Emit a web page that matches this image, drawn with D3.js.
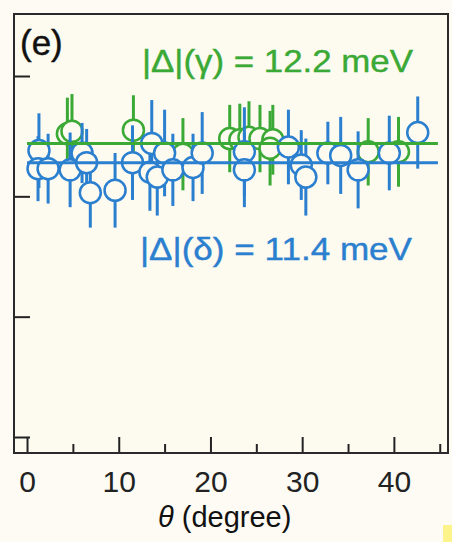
<!DOCTYPE html>
<html><head><meta charset="utf-8">
<script src="https://cdn.jsdelivr.net/npm/d3@7"></script>
<style>
html,body{margin:0;padding:0;background:#fdfbf4;}
svg{display:block;}
text{font-family:"Liberation Sans",Arial,Helvetica,sans-serif;}
</style></head>
<body><svg id="c" width="452" height="542"></svg>
<script>
// γ band (green)
const gammaTheta = [4.4, 4.9, 11.6, 17.0, 22.1, 23.2, 24.2, 25.4, 26.8, 26.5, 37.2, 40.5];
const gammaGap   = [12.6, 12.7, 12.75, 11.75, 12.4, 12.35, 12.45, 12.4, 12.35, 12.0, 11.85, 11.85];
const gammaErr   = [1.5, 1.55, 1.45, 1.5, 1.4, 1.5, 1.5, 1.4, 1.45, 1.55, 1.4, 1.45];
// δ band (blue)
const deltaTheta = [1.3, 1.2, 2.3, 4.7, 6.0, 6.5, 6.9, 9.6, 11.5, 13.6, 13.4, 14.2, 15.0, 15.9, 18.1, 19.1, 23.7, 23.7, 28.5, 29.9, 30.4, 32.8, 34.2, 36.1, 39.5, 42.6];
const deltaGap   = [11.9, 11.15, 11.15, 11.1, 11.8, 11.4, 10.15, 10.25, 11.4, 12.2, 11.0, 10.8, 11.8, 11.1, 11.2, 11.8, 11.85, 11.1, 12.05, 11.3, 10.8, 11.8, 11.7, 11.1, 11.8, 12.65];
const deltaErr   = [1.55, 1.35, 1.45, 1.55, 1.25, 1.4, 1.45, 1.55, 1.55, 1.8, 1.6, 1.6, 1.8, 1.5, 1.4, 1.7, 1.85, 1.55, 1.55, 1.45, 1.6, 1.3, 1.6, 1.6, 1.55, 1.5];
const meanGamma = 12.2, meanDelta = 11.4;
const xTicks = [0, 10, 20, 30, 40];
const xMinor = [5, 15, 25, 35, 45];
const yTicks = [0, 5, 10, 15];
const labelGamma = "|Δ|(γ) = 12.2 meV";
const labelDelta = "|Δ|(δ) = 11.4 meV";
const panelLabel = "(e)";
const xTitle = "(degree)";

const GREEN = "#3aa935", BLUE = "#2b7fcf";
const svg = d3.select("#c");
const L = 14, R = 448, T = 14, B = 453;
const x = d3.scaleLinear().domain([-1.42, 45.9]).range([L, R]);
const y = d3.scaleLinear().domain([0, 15]).range([437, 76]);

svg.append("rect").attr("x", L).attr("y", T).attr("width", R - L).attr("height", B - T)
  .attr("fill", "#fdfaf0");

function series(th, gp, er, color) {
  const g = svg.append("g");
  const d = th.map((t, i) => ({t, v: gp[i], e: er[i]}));
  g.selectAll("line").data(d).join("line")
    .attr("x1", p => x(p.t)).attr("x2", p => x(p.t))
    .attr("y1", p => y(p.v - p.e)).attr("y2", p => y(p.v + p.e))
    .attr("stroke", color).attr("stroke-width", 3);
  g.selectAll("circle").data(d).join("circle")
    .attr("cx", p => x(p.t)).attr("cy", p => y(p.v)).attr("r", 10.5)
    .attr("fill", "#fdfaf0").attr("stroke", color).attr("stroke-width", 2.5);
}
series(gammaTheta, gammaGap, gammaErr, GREEN);
series(deltaTheta, deltaGap, deltaErr, BLUE);

svg.append("line").attr("x1", x(0)).attr("x2", x(44.8)).attr("y1", y(meanGamma)).attr("y2", y(meanGamma))
  .attr("stroke", GREEN).attr("stroke-width", 3);
svg.append("line").attr("x1", x(0)).attr("x2", x(44.8)).attr("y1", y(meanDelta)).attr("y2", y(meanDelta))
  .attr("stroke", BLUE).attr("stroke-width", 3);

// axes
const xAx = svg.append("g").attr("transform", `translate(0,${B})`)
  .call(d3.axisBottom(x).tickValues(xTicks).tickSizeInner(-16).tickSizeOuter(0).tickPadding(18).tickFormat(d3.format("d")));
xAx.select(".domain").remove();
xAx.selectAll(".tick line").attr("stroke", "#222").attr("stroke-width", 2);
xAx.selectAll(".tick text").attr("font-size", 30).attr("fill", "#222")
  .attr("font-family", '"Liberation Sans",Arial,sans-serif');
const xm = svg.append("g").attr("transform", `translate(0,${B})`)
  .call(d3.axisBottom(x).tickValues(xMinor).tickSizeInner(-9).tickSizeOuter(0).tickFormat(""));
xm.select(".domain").remove();
xm.selectAll(".tick line").attr("stroke", "#222").attr("stroke-width", 2);

const yAx = svg.append("g").attr("transform", `translate(${L},0)`)
  .call(d3.axisLeft(y).tickValues(yTicks).tickSizeInner(-16).tickSizeOuter(0).tickFormat(""));
yAx.select(".domain").remove();
yAx.selectAll(".tick line").attr("stroke", "#222").attr("stroke-width", 2);

svg.append("rect").attr("x", L).attr("y", T).attr("width", R - L).attr("height", B - T)
  .attr("fill", "none").attr("stroke", "#2a2a2a").attr("stroke-width", 2);

// texts
svg.append("text").attr("x", 20).attr("y", 55).attr("font-size", 35).attr("fill", "#111")
  .attr("stroke", "#111").attr("stroke-width", 0.4).text(panelLabel);
svg.append("text").attr("x", 142).attr("y", 72).attr("font-size", 32).attr("fill", GREEN)
  .attr("stroke", GREEN).attr("stroke-width", 0.4)
  .attr("textLength", 271).attr("lengthAdjust", "spacingAndGlyphs").text(labelGamma);
svg.append("text").attr("x", 140).attr("y", 260).attr("font-size", 32).attr("fill", BLUE)
  .attr("stroke", BLUE).attr("stroke-width", 0.4)
  .attr("textLength", 272).attr("lengthAdjust", "spacingAndGlyphs").text(labelDelta);
const tt = svg.append("text").attr("x", 158).attr("y", 527).attr("font-size", 29).attr("fill", "#111");
tt.append("tspan").attr("font-style", "italic").text("θ");
tt.append("tspan").text(" " + xTitle);

svg.append("rect").attr("x", 443).attr("y", 525).attr("width", 9).attr("height", 17).attr("fill", "#fcf38a");
</script></body></html>
